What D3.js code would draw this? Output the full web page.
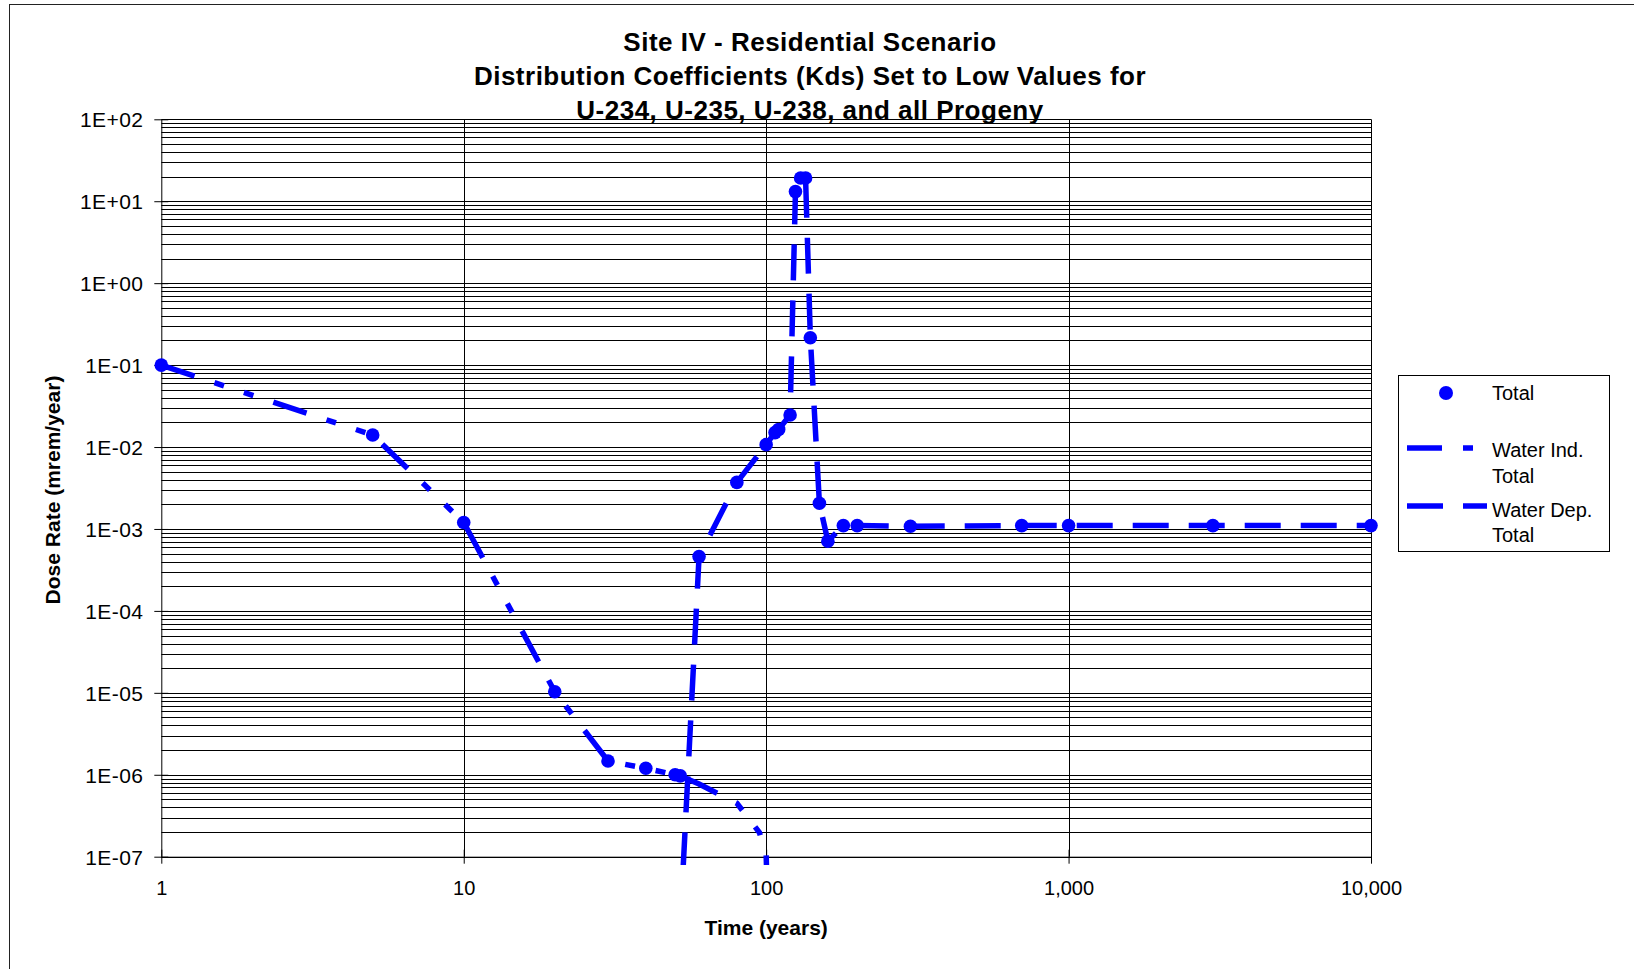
<!DOCTYPE html>
<html><head><meta charset="utf-8">
<script src="https://cdn.jsdelivr.net/npm/d3@7"></script>
<style>
body{margin:0;background:#fff}
svg{display:block}
text{font-family:"Liberation Sans",Arial,sans-serif;fill:#000}
</style>
</head><body>
<svg id="chart" width="1634" height="969"></svg>
<script>
// ---- data ----
const titleLines = ["Site IV - Residential Scenario",
  "Distribution Coefficients (Kds) Set to Low Values for",
  "U-234, U-235, U-238, and all Progeny"];
const xTitle = "Time (years)";
const yTitle = "Dose Rate (mrem/year)";
const seriesNames = ["Total", "Water Ind.\nTotal", "Water Dep.\nTotal"];

const xTicks = [1, 10, 100, 1000, 10000];
const yTicks = [1e-7, 1e-6, 1e-5, 1e-4, 1e-3, 1e-2, 1e-1, 1e0, 1e1, 1e2];
const yTickLabels = ["1E-07","1E-06","1E-05","1E-04","1E-03","1E-02","1E-01","1E+00","1E+01","1E+02"];

const totalTimes = [1,5,10,20,30,40,50,52,60,80,100,107,110,120,125,130,135,140,150,160,180,200,300,700,1000,3000,10000];
const totalDose  = [1.0e-1,1.4e-2,1.2e-3,1.03e-5,1.47e-6,1.2e-6,1.0e-6,9.7e-7,4.6e-4,3.7e-3,1.07e-2,1.5e-2,1.64e-2,2.46e-2,13.1,19.2,19.2,0.216,2.06e-3,7.1e-4,1.1e-3,1.1e-3,1.08e-3,1.1e-3,1.1e-3,1.1e-3,1.1e-3];

const waterIndTimes = [1,5,10,20,30,40,50,52,60,80,95,100,110];
const waterIndDose  = [1.0e-1,1.4e-2,1.2e-3,1.03e-5,1.47e-6,1.2e-6,1.0e-6,9.7e-7,7.7e-7,4.5e-7,1.97e-7,1.05e-7,1e-12];

const waterDepTimes = [52,60,80,100,107,110,120,125,130,135,140,150,160,180,200,300,700,1000,3000,10000];
const waterDepDose  = [1.5e-8,4.6e-4,3.7e-3,1.07e-2,1.5e-2,1.64e-2,2.46e-2,13.1,19.2,19.2,0.216,2.06e-3,7.1e-4,1.1e-3,1.1e-3,1.08e-3,1.1e-3,1.1e-3,1.1e-3,1.1e-3];

// ---- layout ----
const svg = d3.select("#chart");
const L = 161.3, R = 1371, T = 119.3, B = 856.7;
const blue = "#0000FF";
const x = d3.scaleLog().domain([1, 10000]).range([L, R]);
const y = d3.scaleLog().domain([1e-7, 100]).range([B, T]);

// outer chart border
svg.append("rect").attr("x", 9.5).attr("y", 4.5).attr("width", 1700).attr("height", 1000)
  .attr("fill", "none").attr("stroke", "#222").attr("stroke-width", 1);

// horizontal gridlines (major + minor)
const hGrid = [];
for (let k = -7; k <= 1; k++) for (let i = 1; i <= 9; i++) hGrid.push(i * Math.pow(10, k));
hGrid.push(100);
svg.append("g").selectAll("line").data(hGrid).join("line")
  .attr("x1", L).attr("x2", R)
  .attr("y1", d => Math.round(y(d)) + 0.5).attr("y2", d => Math.round(y(d)) + 0.5)
  .attr("stroke", "#000").attr("stroke-width", 1);

// vertical gridlines at decades
svg.append("g").selectAll("line").data(xTicks.slice(1)).join("line")
  .attr("x1", d => Math.round(x(d)) + 0.5).attr("x2", d => Math.round(x(d)) + 0.5)
  .attr("y1", T).attr("y2", B)
  .attr("stroke", "#000").attr("stroke-width", 1);

// axes
const yAxis = d3.axisLeft(y).tickValues(yTicks)
  .tickFormat((d, i) => yTickLabels[i]).tickSize(7).tickSizeOuter(0).tickPadding(11);
const gy = svg.append("g").attr("transform", `translate(${L},0)`).call(yAxis);
gy.selectAll(".tick line").attr("x1", 7).attr("stroke", "#000");
gy.select(".domain").attr("stroke", "#000");
gy.selectAll("text").attr("font-size", 21).attr("letter-spacing", 0.4).attr("dy", "0.35em")
  .style("font-family", '"Liberation Sans",Arial,sans-serif');

const xAxis = d3.axisBottom(x).tickValues(xTicks).tickFormat(d3.format(","))
  .tickSize(7).tickSizeOuter(0).tickPadding(17.5);
const gx = svg.append("g").attr("transform", `translate(0,${B})`).call(xAxis);
gx.selectAll(".tick line").attr("y1", -7).attr("stroke", "#000");
gx.select(".domain").attr("stroke", "#000");
gx.selectAll("text").attr("font-size", 20)
  .style("font-family", '"Liberation Sans",Arial,sans-serif');

// clip for lines
svg.append("clipPath").attr("id", "plotclip").append("rect")
  .attr("x", 150).attr("y", 100).attr("width", 1240).attr("height", 865 - 100);

const line = d3.line().x(d => x(d[0])).y(d => y(d[1]));
const indData = waterIndTimes.map((t, i) => [t, waterIndDose[i]]);
const depData = waterDepTimes.map((t, i) => [t, waterDepDose[i]]);
const totData = totalTimes.map((t, i) => [t, totalDose[i]]);

const indDash = "35,21,10,21,10,21";
const depDash = "36,20";

const gl = svg.append("g").attr("clip-path", "url(#plotclip)");
gl.append("path").datum(indData).attr("d", line)
  .attr("fill", "none").attr("stroke", blue).attr("stroke-width", 5.5)
  .attr("stroke-dasharray", indDash).attr("stroke-linecap", "butt").attr("stroke-linejoin", "miter");
gl.append("path").datum(depData).attr("d", line)
  .attr("fill", "none").attr("stroke", blue).attr("stroke-width", 5.5)
  .attr("stroke-dasharray", depDash).attr("stroke-linecap", "butt").attr("stroke-linejoin", "miter");

// Total markers
svg.append("g").selectAll("circle").data(totData).join("circle")
  .attr("cx", d => x(d[0])).attr("cy", d => y(d[1])).attr("r", 6.8).attr("fill", blue);

// titles
const tg = svg.append("g").attr("font-weight", "bold").attr("text-anchor", "middle");
tg.selectAll("text").data(titleLines).join("text")
  .attr("x", 810).attr("y", (d, i) => 50.5 + i * 34)
  .attr("font-size", 26).attr("letter-spacing", 0.5).text(d => d);

svg.append("text").attr("x", (L + R) / 2).attr("y", 935).attr("text-anchor", "middle")
  .attr("font-weight", "bold").attr("font-size", 21).text(xTitle);

svg.append("text").attr("transform", `translate(59.5,${(T + B) / 2 + 2}) rotate(-90)`)
  .attr("text-anchor", "middle").attr("font-weight", "bold").attr("font-size", 21).text(yTitle);

// legend
const lg = svg.append("g");
lg.append("rect").attr("x", 1398.5).attr("y", 375.5).attr("width", 211).attr("height", 176)
  .attr("fill", "#fff").attr("stroke", "#000").attr("stroke-width", 1);
lg.append("circle").attr("cx", 1446).attr("cy", 393).attr("r", 7).attr("fill", blue);
lg.append("line").attr("x1", 1407).attr("x2", 1487).attr("y1", 448).attr("y2", 448)
  .attr("stroke", blue).attr("stroke-width", 5.5).attr("stroke-dasharray", indDash);
lg.append("line").attr("x1", 1407).attr("x2", 1487).attr("y1", 506).attr("y2", 506)
  .attr("stroke", blue).attr("stroke-width", 5.5).attr("stroke-dasharray", depDash);
const legendY = [[400], [456.7, 483.3], [516.7, 541.7]];
seriesNames.forEach((name, i) => {
  name.split("\n").forEach((part, j) => {
    lg.append("text").attr("x", 1492).attr("y", legendY[i][j]).attr("font-size", 20).text(part);
  });
});
</script>
</body></html>
